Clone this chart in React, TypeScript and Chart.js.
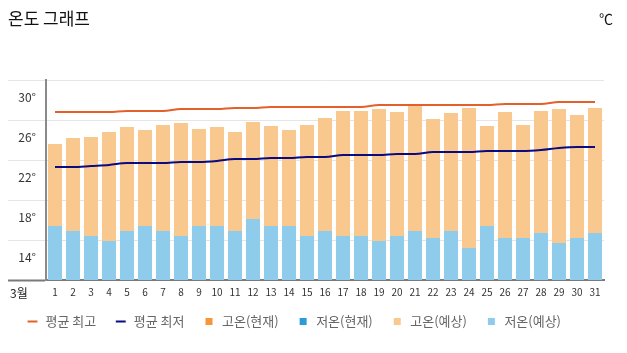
import React, { useEffect, useRef } from 'react';
import { Chart, registerables } from 'chart.js';

Chart.register(...registerables);

const days = ['1', '2', '3', '4', '5', '6', '7', '8', '9', '10', '11', '12', '13', '14', '15', '16', '17', '18', '19', '20', '21', '22', '23', '24', '25', '26', '27', '28', '29', '30', '31'];

const avgHigh = [28.8, 28.8, 28.8, 28.8, 28.9, 28.9, 28.9, 29.1, 29.1, 29.1, 29.2, 29.2, 29.3, 29.3, 29.3, 29.3, 29.3, 29.3, 29.5, 29.5, 29.5, 29.5, 29.5, 29.5, 29.5, 29.6, 29.6, 29.6, 29.8, 29.8, 29.8];
const avgLow = [23.3, 23.3, 23.4, 23.5, 23.7, 23.7, 23.7, 23.8, 23.8, 23.9, 24.1, 24.1, 24.2, 24.2, 24.3, 24.3, 24.5, 24.5, 24.5, 24.6, 24.6, 24.8, 24.8, 24.8, 24.9, 24.9, 24.9, 25.0, 25.2, 25.3, 25.3];
const highNow: (number | null)[] = [];
const lowNow: (number | null)[] = [];
const highForecast = [25.6, 26.2, 26.3, 26.8, 27.3, 27.0, 27.5, 27.7, 27.1, 27.3, 26.8, 27.8, 27.4, 27.0, 27.5, 28.2, 28.9, 28.9, 29.1, 28.8, 29.5, 28.1, 28.7, 29.2, 27.4, 28.8, 27.5, 28.9, 29.1, 28.5, 29.2];
const lowForecast = [17.4, 16.9, 16.4, 15.9, 16.9, 17.4, 16.9, 16.4, 17.4, 17.4, 16.9, 18.1, 17.4, 17.4, 16.4, 16.9, 16.4, 16.4, 15.9, 16.4, 16.9, 16.2, 16.9, 15.2, 17.4, 16.2, 16.2, 16.7, 15.7, 16.2, 16.7];

const yMin = 12;
const yMax = 32;
const yLabelValues = [14, 18, 22, 26, 30];
const yGridValues = [16, 20, 24, 28, 32];

const FONT = "'Noto Sans CJK KR', 'Noto Sans', sans-serif";

export default function App() {
  const ref = useRef<HTMLCanvasElement | null>(null);

  useEffect(() => {
    if (!ref.current) return;
    const chart = new Chart(ref.current, {
      type: 'bar',
      data: {
        labels: days,
        datasets: [
          {
            type: 'line',
            label: '평균 최고',
            data: avgHigh,
            borderColor: '#e4602a',
            backgroundColor: '#e4602a',
            borderWidth: 2,
            pointRadius: 0,
            cubicInterpolationMode: 'monotone',
            order: 0,
          } as any,
          {
            type: 'line',
            label: '평균 최저',
            data: avgLow,
            borderColor: '#0b0b80',
            backgroundColor: '#0b0b80',
            borderWidth: 2,
            pointRadius: 0,
            cubicInterpolationMode: 'monotone',
            order: 0,
          } as any,
          {
            label: '고온(현재)',
            data: highNow,
            backgroundColor: '#f7953a',
            grouped: false,
            order: 2,
          } as any,
          {
            label: '저온(현재)',
            data: lowNow,
            backgroundColor: '#2a9dd8',
            grouped: false,
            order: 1,
          } as any,
          {
            label: '고온(예상)',
            data: highForecast,
            backgroundColor: '#f9c88f',
            grouped: false,
            order: 2,
          } as any,
          {
            label: '저온(예상)',
            data: lowForecast,
            backgroundColor: '#8fcbeb',
            grouped: false,
            order: 1,
          } as any,
        ],
      },
      options: {
        responsive: false,
        animation: false,
        layout: { padding: { top: 72, right: 15, bottom: 7, left: 0 } },
        datasets: {
          bar: { barPercentage: 0.78, categoryPercentage: 1.0 },
        },
        scales: {
          x: {
            grid: { display: false, drawTicks: false },
            border: { display: true, color: '#7a7a7a', width: 2 },
            ticks: {
              autoSkip: false,
              maxRotation: 0,
              padding: 6,
              color: '#333',
              font: { family: FONT, size: 10 },
            },
            afterFit: (scale: any) => {
              scale.height = 17;
            },
          },
          y: {
            min: yMin,
            max: yMax,
            ticks: {
              stepSize: 2,
              padding: -28,
              labelOffset: -3,
              color: '#333',
              font: { family: FONT, size: 12 },
              callback: (v: any) => (yLabelValues.includes(Number(v)) ? `${v}°` : ''),
            },
            grid: {
              drawTicks: true,
              tickLength: 38,
              color: (ctx: any) => (yGridValues.includes(ctx.tick?.value) ? '#e6e6e6' : 'rgba(0,0,0,0)'),
              tickColor: (ctx: any) =>
                ctx.tick?.value === yMin ? '#7a7a7a' : yGridValues.includes(ctx.tick?.value) ? '#e6e6e6' : 'rgba(0,0,0,0)',
              tickWidth: (ctx: any) => (ctx.tick?.value === yMin ? 2 : 1),
            } as any,
            border: { display: true, color: '#8a8a8a', width: 2 },
            afterFit: (scale: any) => {
              scale.width = 38;
            },
          },
        },
        plugins: {
          tooltip: { enabled: false },
          legend: {
            position: 'bottom',
            align: 'start',
            labels: {
              usePointStyle: true,
              boxWidth: 13,
              boxHeight: 7,
              padding: 18,
              color: '#666',
              font: { family: FONT, size: 13 },
              sort: (a: any, b: any) => a.datasetIndex - b.datasetIndex,
              generateLabels: (c: any) => {
                const items = Chart.defaults.plugins.legend.labels.generateLabels(c);
                return items.map((it: any) => {
                  const ds: any = c.data.datasets[it.datasetIndex];
                  if (ds.type === 'line') {
                    return { ...it, pointStyle: 'line', lineWidth: 2, strokeStyle: ds.borderColor, fillStyle: ds.borderColor, fontColor: '#666' };
                  }
                  return { ...it, pointStyle: 'rect', lineWidth: 0, fillStyle: ds.backgroundColor, strokeStyle: ds.backgroundColor, fontColor: '#666' };
                });
              },
            },
          } as any,
        },
      },
    });
    return () => chart.destroy();
  }, []);

  return (
    <div style={{ position: 'relative', width: 611, height: 337, fontFamily: FONT }}>
      <canvas ref={ref} width={611} height={337} style={{ position: 'absolute', left: 0, top: 0 }} />
      <div style={{ position: 'absolute', left: 0, top: 0, fontSize: 17, lineHeight: '20px', color: '#111' }}>온도 그래프</div>
      <div style={{ position: 'absolute', right: 6, top: 0, fontSize: 14, lineHeight: '20px', color: '#111' }}>℃</div>
      <div style={{ position: 'absolute', left: 2, top: 277, fontSize: 12, lineHeight: '16px', color: '#222' }}>3월</div>
    </div>
  );
}
